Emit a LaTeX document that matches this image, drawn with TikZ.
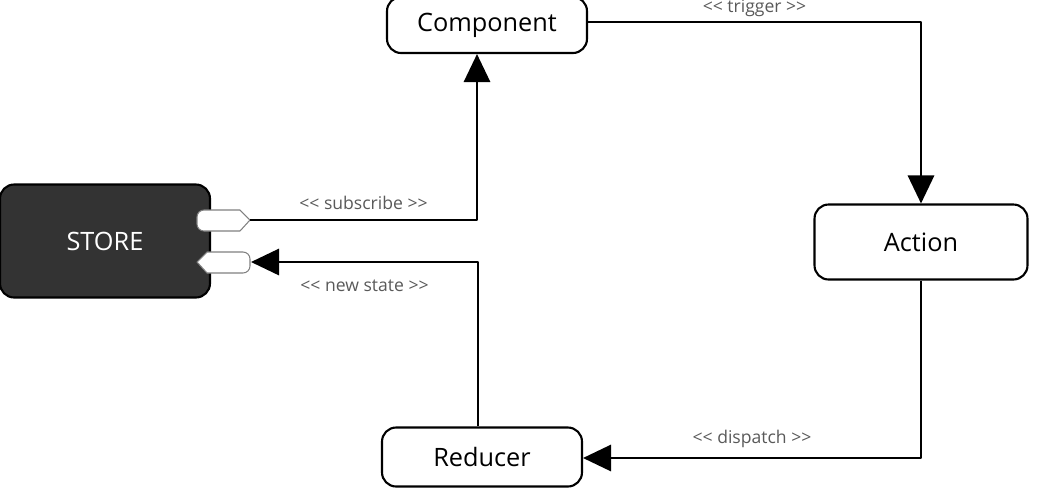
\documentclass[tikz,border=0pt]{standalone}
\usepackage{fontspec}
\setmainfont{Open Sans}
\usetikzlibrary{arrows.meta}
\begin{document}
\begin{tikzpicture}[x=0.02cm,y=-0.02cm,thick,line join=round]
	\tikzstyle{box}=[draw,line width=1.2pt,rounded corners=8pt,fill=white,font=\Large];
	\tikzstyle{lbl}=[text=black!65,font=\normalsize];
	\tikzstyle{flow}=[line width=1.3pt,-{Triangle[length=16pt,width=15pt]}];
	\tikzstyle{port}=[draw=black!50,fill=white,line width=0.6pt];
	\useasboundingbox (0,0) rectangle (1051,495);

	\node[box,minimum width=4cm,minimum height=1.12cm] (comp) at (487,25) {Component};
	\node[box,minimum width=4.26cm,minimum height=1.5cm] (act) at (921,242) {Action};
	\node[box,minimum width=4.0cm,minimum height=1.18cm] (red) at (482,457) {Reducer};
	\node[box,fill=black!80,text=white,minimum width=4.2cm,minimum height=2.26cm] (store) at (105,241) {STORE};
	\draw[port] (240,210) -- (250,220) -- (240,231)
		[rounded corners=4pt] -- (197,231) -- (197,210) [sharp corners] -- cycle;
	\draw[port] (207,252) [rounded corners=4pt] -- (250,252) -- (250,273) [sharp corners]
		-- (207,273) -- (197,262) -- cycle;
	\coordinate (sub) at (250,220);
	\coordinate (ns) at (251,262);

	\draw[flow] (sub) -| node[lbl,pos=0.25,above=2pt]{{<}{<} subscribe {>}{>}} (comp.south -| 477,0);
	\draw[flow] (comp.east |- 0,22) -| node[lbl,pos=0.25,above=-1pt]{{<}{<} trigger {>}{>}} (act.north);
	\draw[flow] (act.south) |- node[lbl,pos=0.75,above=2pt]{{<}{<} dispatch {>}{>}} (red.east |- 0,458);
	\draw[flow] (red.north -| 478,0) |- node[lbl,pos=0.75,below=6pt]{{<}{<} new state {>}{>}} (ns);
\end{tikzpicture}
\end{document}
